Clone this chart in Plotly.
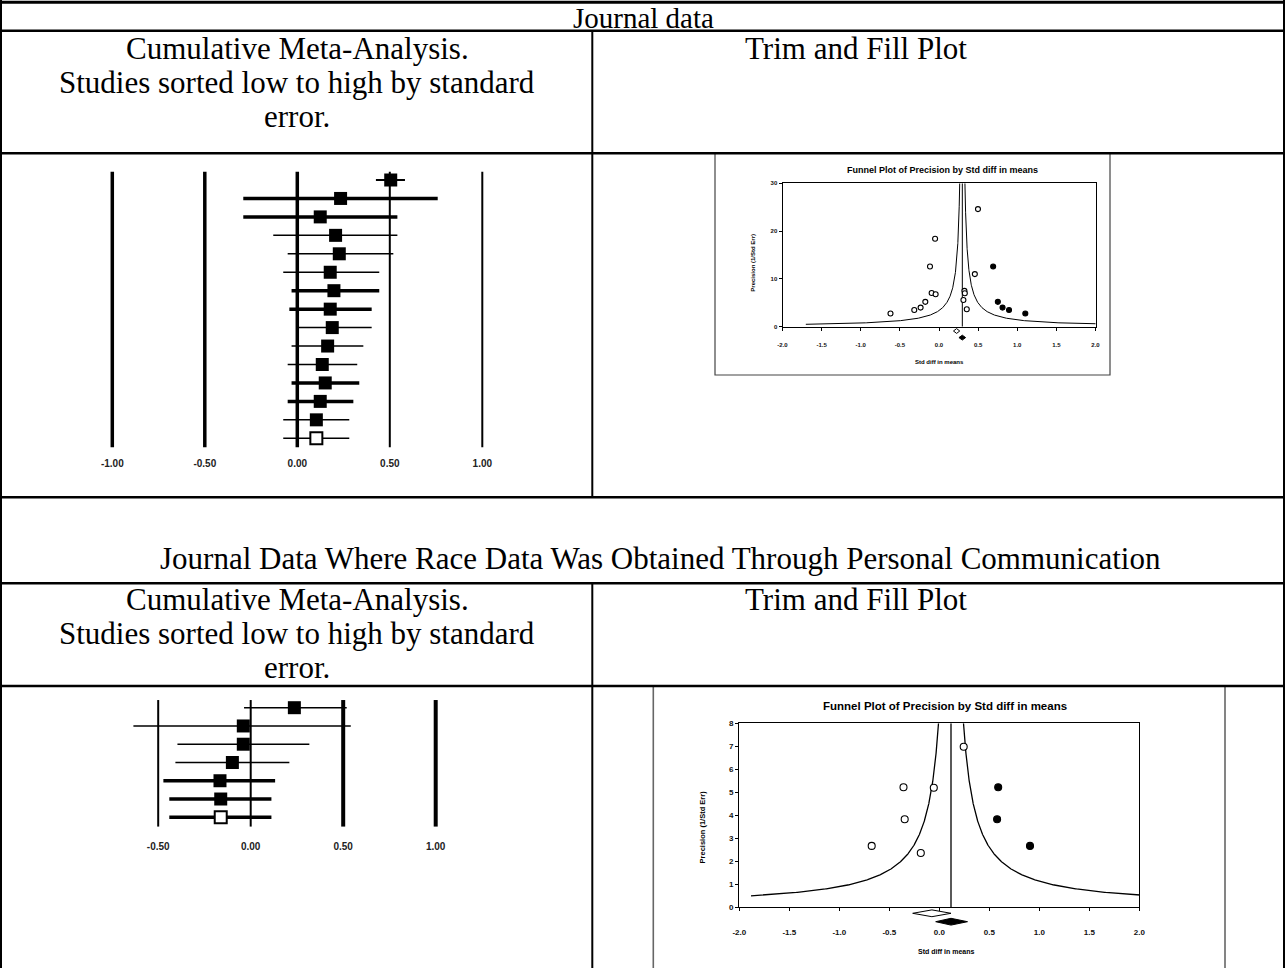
import numpy as np
import plotly.graph_objects as go

W, H = 1285, 968

# ------------------------------------------------------------------ data
# Panel A: cumulative meta-analysis, journal data (studies sorted by SE)
fp1_est = [0.505, 0.234, 0.124, 0.207, 0.227, 0.178, 0.198, 0.178, 0.189, 0.164, 0.135, 0.151, 0.124, 0.103, 0.103]
fp1_lo = [0.425, -0.292, -0.292, -0.130, -0.052, -0.076, -0.031, -0.043, 0.005, -0.031, -0.052, -0.031, -0.052, -0.076, -0.076]
fp1_hi = [0.582, 0.759, 0.541, 0.541, 0.519, 0.443, 0.443, 0.402, 0.402, 0.357, 0.324, 0.335, 0.303, 0.281, 0.281]
fp1_ticks = [-1.0, -0.5, 0.0, 0.5, 1.0]
fp1_ticklabels = ["-1.00", "-0.50", "0.00", "0.50", "1.00"]

# Panel B: trim and fill funnel plot, journal data
fn1_obs_x = [0.498, -0.050, -0.115, 0.458, -0.094, -0.043, 0.325, 0.330, 0.312, -0.175, -0.235, -0.316, -0.620, 0.355]
fn1_obs_y = [24.6, 18.4, 12.6, 11.0, 7.05, 6.8, 7.5, 7.0, 5.6, 5.2, 4.0, 3.5, 2.75, 3.65]
fn1_imp_x = [0.692, 0.752, 0.812, 0.895, 1.103]
fn1_imp_y = [12.6, 5.2, 4.0, 3.5, 2.75]
fn1_obs_est, fn1_obs_lo, fn1_obs_hi = 0.225, 0.185, 0.265
fn1_adj_est, fn1_adj_lo, fn1_adj_hi = 0.298, 0.255, 0.340
fn1_yticks = [0, 10, 20, 30]

# Panel C: cumulative meta-analysis, personal-communication data
fp2_est = [0.236, -0.040, -0.040, -0.099, -0.166, -0.162, -0.162]
fp2_lo = [-0.036, -0.634, -0.396, -0.407, -0.472, -0.440, -0.440]
fp2_hi = [0.519, 0.541, 0.317, 0.209, 0.132, 0.112, 0.112]
fp2_ticks = [-0.5, 0.0, 0.5, 1.0]
fp2_ticklabels = ["-0.50", "0.00", "0.50", "1.00"]

# Panel D: trim and fill funnel plot, personal-communication data
fn2_obs_x = [0.244, -0.358, -0.055, -0.346, -0.676, -0.185]
fn2_obs_y = [6.98, 5.22, 5.20, 3.83, 2.67, 2.36]
fn2_imp_x = [0.589, 0.578, 0.907]
fn2_imp_y = [5.22, 3.83, 2.67]
fn2_obs_est, fn2_obs_lo, fn2_obs_hi = -0.074, -0.266, 0.117
fn2_adj_est, fn2_adj_lo, fn2_adj_hi = 0.117, -0.036, 0.282
fn2_yticks = [0, 1, 2, 3, 4, 5, 6, 7, 8]

fn_xticks = [-2.0, -1.5, -1.0, -0.5, 0.0, 0.5, 1.0, 1.5, 2.0]
fn_xticklabels = ["-2.0", "-1.5", "-1.0", "-0.5", "0.0", "0.5", "1.0", "1.5", "2.0"]

# texts
TITLE_1 = "Journal data"
TITLE_2 = "Journal Data Where Race Data Was Obtained Through Personal Communication"
HEAD_LEFT = ["Cumulative Meta-Analysis.", "Studies sorted low to high by standard", "error."]
HEAD_RIGHT = "Trim and Fill Plot"
FUNNEL_TITLE = "Funnel Plot of Precision by Std diff in means"
FUNNEL_XTITLE = "Std diff in means"
FUNNEL_YTITLE = "Precision (1/Std Err)"

# ------------------------------------------------------------------ styles
FP1_LW = [2, 3.5, 3.5, 1.5, 1.5, 1.5, 3.5, 3.5, 1.5, 1.5, 1.5, 3.5, 3.5, 1.5, 1.5]
FP1_VLW = [3.5, 3.5, 3.5, 2, 2]
FP2_LW = [1.5, 1.5, 1.5, 1.5, 3.5, 3.5, 3.5]
FP2_VLW = [2, 2, 4, 4]
FUNNEL_Z = 1.0      # pseudo confidence limit: mean +/- Z / precision
FUNNEL_PMIN = 0.5

SERIF = "Times New Roman, Liberation Serif, serif"
SERIF_SIZE = 31
LINE_STEP = 34.4
SANS = "Arial, Liberation Sans, sans-serif"


def px(x):
    return x / W


def py(y):
    return 1 - y / H


fig = go.Figure()
shapes = []
annotations = []


def add_forest(est, lo, hi, lw, vlw, ticks, xa, ya, y0, y1, box):
    n = len(est)
    rows = list(range(1, n + 1))
    for t, w in zip(ticks, vlw):
        shapes.append(dict(type="line", xref=xa, yref=ya, x0=t, x1=t, y0=y0, y1=y1,
                           line=dict(color="black", width=w), layer="below"))
    for r, l, h, w in zip(rows, lo, hi, lw):
        fig.add_trace(go.Scatter(x=[l, h], y=[r, r], mode="lines",
                                 line=dict(color="black", width=w),
                                 xaxis=xa, yaxis=ya, hoverinfo="skip"))
    fig.add_trace(go.Scatter(x=est[:-1], y=rows[:-1], mode="markers",
                             marker=dict(symbol="square", size=box, color="black",
                                         line=dict(width=0)),
                             xaxis=xa, yaxis=ya))
    fig.add_trace(go.Scatter(x=est[-1:], y=rows[-1:], mode="markers",
                             marker=dict(symbol="square", size=box - 1, color="white",
                                         line=dict(color="black", width=2)),
                             xaxis=xa, yaxis=ya))


def add_funnel(xa, ya, ymax, ox, oy, ix, iy, obs, adj, msize, lw, dy_obs, dy_adj, dh):
    m = adj[0]
    p = np.geomspace(FUNNEL_PMIN, ymax, 400)
    for sgn in (-1, 1):
        fig.add_trace(go.Scatter(x=m + sgn * FUNNEL_Z / p, y=p, mode="lines",
                                 line=dict(color="black", width=lw),
                                 xaxis=xa, yaxis=ya, hoverinfo="skip"))
    fig.add_trace(go.Scatter(x=[m, m], y=[0, ymax], mode="lines",
                             line=dict(color="black", width=lw),
                             xaxis=xa, yaxis=ya, hoverinfo="skip"))
    fig.add_trace(go.Scatter(x=ox, y=oy, mode="markers",
                             marker=dict(symbol="circle", size=msize, color="white",
                                         line=dict(color="black", width=1.1)),
                             xaxis=xa, yaxis=ya))
    fig.add_trace(go.Scatter(x=ix, y=iy, mode="markers",
                             marker=dict(symbol="circle", size=msize, color="black",
                                         line=dict(color="black", width=1.1)),
                             xaxis=xa, yaxis=ya))
    # summary diamonds below the axis (x in data units, y in paper units)
    for (est, lo, hi), yc, fill in ((obs, dy_obs, "white"), (adj, dy_adj, "black")):
        path = (f"M {lo},{py(yc)} L {est},{py(yc - dh)} L {hi},{py(yc)} "
                f"L {est},{py(yc + dh)} Z")
        shapes.append(dict(type="path", xref=xa, yref="paper", path=path,
                           fillcolor=fill, line=dict(color="black", width=1)))


# Panel A (x / y)
add_forest(fp1_est, fp1_lo, fp1_hi, FP1_LW, FP1_VLW, fp1_ticks, "x", "y", 0.55, 15.49, 13)
# Panel B (x2 / y2)
add_funnel("x2", "y2", 30, fn1_obs_x, fn1_obs_y, fn1_imp_x, fn1_imp_y,
           (fn1_obs_est, fn1_obs_lo, fn1_obs_hi), (fn1_adj_est, fn1_adj_lo, fn1_adj_hi),
           5, 1, 331.0, 337.6, 2.4)
# Panel C (x3 / y3)
add_forest(fp2_est, fp2_lo, fp2_hi, FP2_LW, FP2_VLW, fp2_ticks, "x3", "y3", 0.58, 7.51, 13)
# Panel D (x4 / y4)
add_funnel("x4", "y4", 8, fn2_obs_x, fn2_obs_y, fn2_imp_x, fn2_imp_y,
           (fn2_obs_est, fn2_obs_lo, fn2_obs_hi), (fn2_adj_est, fn2_adj_lo, fn2_adj_hi),
           7, 1.3, 913.3, 921.7, 3.4)

forest_ax = dict(showgrid=False, zeroline=False, showline=False, ticks="",
                 automargin=False,
                 tickfont=dict(family=SANS, size=10, color="#222", weight="bold"))
hidden_y = dict(visible=False, showgrid=False, zeroline=False, automargin=False)


def funnel_ax(size, lw):
    return dict(showgrid=False, zeroline=False, showline=True, mirror=True,
                linecolor="black", linewidth=lw, ticks="outside", ticklen=3,
                tickcolor="black", tickwidth=1, automargin=False,
                tickfont=dict(family=SANS, size=size, color="#111", weight="bold"))


layout = dict(
    width=W, height=H, autosize=False,
    margin=dict(l=0, r=0, t=0, b=0, pad=0, autoexpand=False),
    paper_bgcolor="white", plot_bgcolor="rgba(0,0,0,0)", showlegend=False,
    xaxis=dict(domain=[px(60), px(540)], range=[-1.2827, 1.3119], anchor="y",
               tickvals=fp1_ticks, ticktext=fp1_ticklabels, **forest_ax),
    yaxis=dict(domain=[py(456), py(160)], range=[15.96, -0.084], anchor="x", **hidden_y),
    xaxis2=dict(domain=[px(782.5), px(1095.5)], range=[-2, 2], anchor="y2",
                tickvals=fn_xticks, ticktext=fn_xticklabels, ticklabelstandoff=9,
                **funnel_ax(6, 1)),
    yaxis2=dict(domain=[py(326.7), py(183.3)], range=[0, 30], anchor="x2",
                tickvals=fn1_yticks, **funnel_ax(6, 1)),
    xaxis3=dict(domain=[px(100), px(500)], range=[-0.8146, 1.3476], anchor="y3",
                tickvals=fp2_ticks, ticktext=fp2_ticklabels, **forest_ax),
    yaxis3=dict(domain=[py(839), py(690)], range=[8.19, 0.031], anchor="x3", **hidden_y),
    xaxis4=dict(domain=[px(739.3), px(1139.3)], range=[-2, 2], anchor="y4",
                tickvals=fn_xticks, ticktext=fn_xticklabels, ticklabelstandoff=14,
                **funnel_ax(8, 1.3)),
    yaxis4=dict(domain=[py(907.3), py(723.3)], range=[0, 8], anchor="x4",
                tickvals=fn2_yticks, **funnel_ax(8, 1.3)),
)

# ---------------------------------------------------------------- funnel frames
shapes.append(dict(type="rect", xref="paper", yref="paper", x0=px(715), x1=px(1110),
                   y0=py(375), y1=py(153.3), line=dict(color="#444", width=1.2)))
shapes.append(dict(type="rect", xref="paper", yref="paper", x0=px(653.3), x1=px(1225),
                   y0=py(990), y1=py(686), line=dict(color="#666", width=1.6)))

# ---------------------------------------------------------------- table rules
for yy, w in ((2.2, 3), (30.7, 2.5), (153.3, 2.5), (497.3, 2.5), (583.3, 2.5), (686, 2.5)):
    shapes.append(dict(type="line", xref="paper", yref="paper", x0=0, x1=1,
                       y0=py(yy), y1=py(yy), line=dict(color="black", width=w)))
for xx, a, b in ((1, 0, H), (1284, 0, H), (592.3, 30.7, 497.3), (592.3, 583.3, H)):
    shapes.append(dict(type="line", xref="paper", yref="paper", x0=px(xx), x1=px(xx),
                       y0=py(a), y1=py(b), line=dict(color="black", width=2)))


def txt(s, x, y, size, family=SERIF, bold=False, angle=0):
    annotations.append(dict(text=s, x=px(x), y=py(y), xref="paper", yref="paper",
                            showarrow=False, xanchor="center", yanchor="middle",
                            textangle=angle,
                            font=dict(family=family, size=size, color="black",
                                      weight="bold" if bold else "normal")))


txt(TITLE_1, 643, 18.5, 29)
for i, s in enumerate(HEAD_LEFT):
    txt(s, 297, 48 + LINE_STEP * i, SERIF_SIZE)
txt(HEAD_RIGHT, 856, 48, SERIF_SIZE)
txt(TITLE_2, 661, 558, SERIF_SIZE)
for i, s in enumerate(HEAD_LEFT):
    txt(s, 297, 599 + LINE_STEP * i, SERIF_SIZE)
txt(HEAD_RIGHT, 856, 599, SERIF_SIZE)

# funnel texts
txt(FUNNEL_TITLE, 943, 170, 9, SANS, True)
txt(FUNNEL_XTITLE, 940, 361.7, 6, SANS, True)
txt(FUNNEL_YTITLE, 752.7, 263, 6, SANS, True, -90)
txt(FUNNEL_TITLE, 944.5, 706, 11.5, SANS, True)
txt(FUNNEL_XTITLE, 946, 951.7, 7, SANS, True)
txt(FUNNEL_YTITLE, 702.7, 826.7, 7.5, SANS, True, -90)

layout["shapes"] = shapes
layout["annotations"] = annotations
fig.update_layout(**layout)

POST = ("document.documentElement.style.margin='0';"
        "document.documentElement.style.padding='0';"
        "document.body.style.margin='0';document.body.style.padding='0';"
        "document.body.style.overflow='hidden';")

fig.write_html("out.html", config={"displayModeBar": False}, post_script=POST)
